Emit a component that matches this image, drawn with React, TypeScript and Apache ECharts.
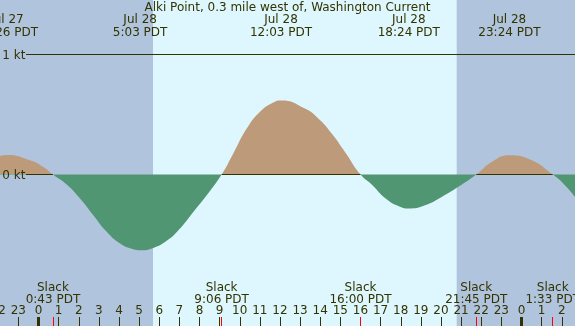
import React, { useEffect, useRef } from "react";
import * as echarts from "echarts";

const TITLE = "Alki Point, 0.3 mile west of, Washington Current";

// hours since Jul 28 00:00 PDT, current in knots
const sampleHours = [
  -1.913, -1.567, -0.422, 0.239, 0.717, 1.401, 2.062, 2.723, 3.389, 4.05, 4.711,
  5.05, 5.704, 6.37, 7.031, 7.692, 8.358, 9.1, 9.679, 10.345, 11.006, 11.667,
  12.05, 13.242, 13.903, 14.569, 15.23, 16.0, 16.557, 17.217, 17.879, 18.4,
  19.205, 20.035, 20.86, 21.75, 22.519, 23.4, 24.507, 25.55, 26.077, 26.658,
];
const currentKt = [
  0.155, 0.163, 0.119, 0.063, 0, -0.083, -0.2, -0.339, -0.478, -0.575, -0.623,
  -0.631, -0.612, -0.553, -0.45, -0.312, -0.173, 0, 0.175, 0.383, 0.523, 0.6,
  0.617, 0.55, 0.467, 0.342, 0.188, 0, -0.083, -0.195, -0.262, -0.283,
  -0.256, -0.187, -0.103, 0, 0.105, 0.161, 0.119, 0, -0.075, -0.187,
];

const peakHours = [-1.567, 5.05, 12.05, 18.4, 23.4];
const peakDates = ["Jul 27", "Jul 28", "Jul 28", "Jul 28", "Jul 28"];
const peakTimes = ["22:26 PDT", "5:03 PDT", "12:03 PDT", "18:24 PDT", "23:24 PDT"];

const slackHours = [0.717, 9.1, 16.0, 21.75, 25.55];
const slackTimes = ["0:43 PDT", "9:06 PDT", "16:00 PDT", "21:45 PDT", "1:33 PDT"];

const sunriseHour = 5.69;
const sunsetHour = 20.78;

const hourAxisMin = -2;
const hourAxisMax = 27;
const hourTicks = Array.from({ length: hourAxisMax - hourAxisMin + 1 }, (_, i) => hourAxisMin + i);
const midnightHours = [0, 24];

const ktLevels = [0, 1];
const refLineStartHour = -0.62;

const NIGHT = "#B0C4DE";
const DAY = "#DEF7FE";
const FLOOD = "#BD9B7A";
const EBB = "#519673";
const INK = "#333300";
const RED = "#FF0000";
const FONT = "DejaVu Sans";

function lookup(vals: number[], labels: string[]) {
  return (v: number) => {
    const i = vals.findIndex((x) => Math.abs(x - v) < 1e-6);
    return i >= 0 ? labels[i] : "";
  };
}

export default function App() {
  const ref = useRef<HTMLDivElement>(null);
  useEffect(() => {
    if (!ref.current) return;
    const chart = echarts.init(ref.current, undefined, { renderer: "svg" });
    const data = sampleHours.map((h, i) => [h, currentKt[i]]);
    const zeroLine: any[] = [
      [refLineStartHour, 0],
      [slackHours[0], 0],
      [(slackHours[0] + slackHours[1]) / 2, null],
      [slackHours[1], 0],
      [slackHours[2], 0],
      [(slackHours[2] + slackHours[3]) / 2, null],
      [slackHours[3], 0],
      [slackHours[4], 0],
    ];
    const peakLabels = peakHours.map((_, i) => peakDates[i] + "\n" + peakTimes[i]);
    const slackLabels = slackTimes.map((t) => "Slack\n" + t);
    const baseX = {
      type: "value",
      min: hourAxisMin,
      max: hourAxisMax,
      gridIndex: 0,
      z: 10,
      axisLine: { show: false, onZero: false },
      splitLine: { show: false },
    };
    const txt = { color: INK, fontSize: 12, fontFamily: FONT };
    chart.setOption({
      animation: false,
      title: {
        text: TITLE,
        left: "center",
        top: 1,
        padding: 0,
        textStyle: { ...txt, fontWeight: "normal" },
      },
      grid: {
        left: -1.75,
        right: -6.875,
        top: 0,
        bottom: 0,
        show: true,
        backgroundColor: DAY,
        borderWidth: 0,
        containLabel: false,
        outerBoundsMode: "none",
      },
      visualMap: {
        type: "piecewise",
        show: false,
        seriesIndex: 1,
        dimension: 1,
        pieces: [
          { gt: -10, lt: 0, color: EBB },
          { gte: 0, lt: 10, color: FLOOD },
        ],
      },
      xAxis: [
        {
          ...baseX,
          position: "bottom",
          interval: 1,
          axisTick: { show: true, inside: true, length: 9, lineStyle: { color: INK, width: 1 }, customValues: hourTicks },
          axisLabel: {
            ...txt,
            inside: true,
            margin: 10,
            customValues: hourTicks,
            formatter: (v: number) => String(((Math.round(v) % 24) + 24) % 24),
          },
        },
        {
          ...baseX,
          position: "bottom",
          axisTick: { show: true, inside: true, length: 9, lineStyle: { color: INK, width: 3 }, customValues: midnightHours },
          axisLabel: { show: false },
        },
        {
          ...baseX,
          position: "bottom",
          axisTick: { show: true, inside: true, length: 9, lineStyle: { color: RED, width: 1 }, customValues: slackHours },
          axisLabel: { show: false },
        },
        {
          ...baseX,
          position: "bottom",
          axisTick: { show: false },
          axisLabel: {
            ...txt,
            inside: true,
            margin: 21,
            lineHeight: 12,
            customValues: slackHours,
            formatter: lookup(slackHours, slackLabels),
          },
        },
        {
          ...baseX,
          position: "top",
          axisTick: { show: false },
          axisLabel: {
            ...txt,
            inside: true,
            margin: 12,
            lineHeight: 13,
            customValues: peakHours,
            formatter: lookup(peakHours, peakLabels),
          },
        },
      ],
      yAxis: {
        type: "value",
        min: -1.2625,
        max: 1.4542,
        z: 10,
        axisLine: { show: false, onZero: false },
        axisTick: { show: false },
        splitLine: { show: false },
        axisLabel: {
          ...txt,
          inside: true,
          margin: 4,
          customValues: ktLevels,
          formatter: (v: number) => v + " kt",
        },
      },
      series: [
        {
          type: "line",
          z: 1,
          data: [[hourAxisMin, 0]],
          symbol: "none",
          lineStyle: { opacity: 0 },
          silent: true,
          markArea: {
            silent: true,
            itemStyle: { color: NIGHT },
            data: [
              [{ xAxis: hourAxisMin }, { xAxis: sunriseHour }],
              [{ xAxis: sunsetHour }, { xAxis: hourAxisMax }],
            ],
          },
        },
        {
          type: "line",
          z: 2,
          data,
          smooth: 0.5,
          symbol: "none",
          silent: true,
          lineStyle: { width: 0 },
          areaStyle: { opacity: 1 },
        },
        {
          type: "line",
          z: 3,
          data: [
            [refLineStartHour, 1],
            [hourAxisMax, 1],
          ],
          symbol: "none",
          silent: true,
          lineStyle: { color: INK, width: 1 },
        },
        {
          type: "line",
          z: 3,
          data: zeroLine,
          symbol: "none",
          silent: true,
          connectNulls: false,
          lineStyle: { color: INK, width: 1 },
        },
      ],
    } as any);
    return () => chart.dispose();
  }, []);
  return (
    <div
      ref={ref}
      style={{ position: "fixed", left: 0, top: 0, width: 575, height: 326 }}
    />
  );
}
